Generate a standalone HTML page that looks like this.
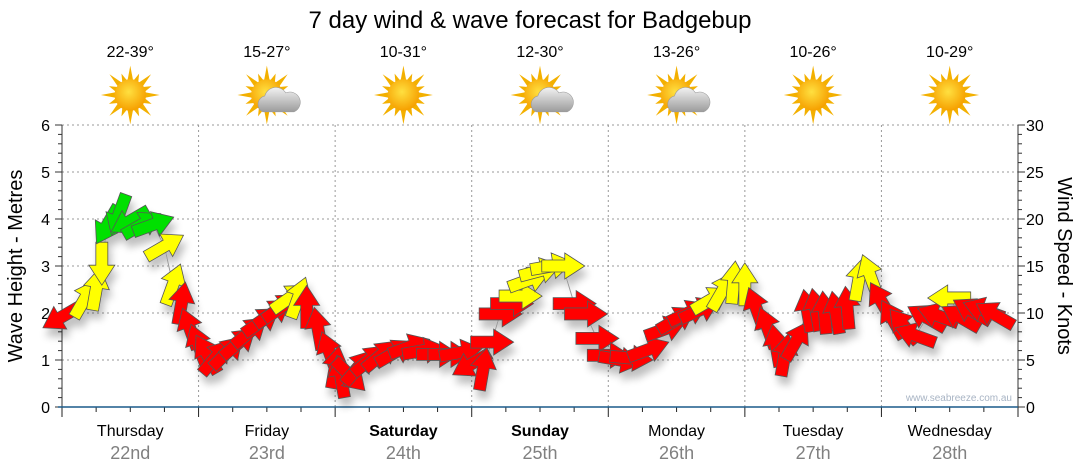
<!DOCTYPE html>
<html><head><meta charset="utf-8"><style>
body{margin:0;background:#fff;font-family:"Liberation Sans",sans-serif;}
#wrap{position:relative;width:1080px;height:475px;overflow:hidden;}
</style></head><body>
<div id="wrap">
<svg id="svg" width="1080" height="475">
<defs>
<radialGradient id="sunG" cx="45%" cy="40%" r="60%"><stop offset="0" stop-color="#ffe040"/><stop offset="1" stop-color="#f6a000"/></radialGradient>
<linearGradient id="cloudG" x1="0" y1="0" x2="0" y2="1"><stop offset="0" stop-color="#f2f2f2"/><stop offset="1" stop-color="#9c9c9c"/></linearGradient>
<filter id="shadow" x="-50%" y="-50%" width="200%" height="200%"><feGaussianBlur in="SourceAlpha" stdDeviation="4"/><feOffset dx="3" dy="8"/><feComponentTransfer><feFuncA type="linear" slope="0.25"/></feComponentTransfer><feMerge><feMergeNode/><feMergeNode in="SourceGraphic"/></feMerge></filter>
</defs>
<text x="530" y="28" font-size="24" text-anchor="middle" fill="#000">7 day wind &amp; wave forecast for Badgebup</text>
<text transform="translate(22,266) rotate(-90)" font-size="20" text-anchor="middle">Wave Height - Metres</text>
<text transform="translate(1058,266) rotate(90)" font-size="20" text-anchor="middle">Wind Speed - Knots</text>
<g id="grid"></g><g id="axes"></g><g id="icons"></g>
<text x="1012" y="401" font-size="10" fill="#a8b4c4" text-anchor="end">www.seabreeze.com.au</text>
<g id="marks" filter="url(#shadow)"></g>
</svg>
</div>
<script>
const days=["Thursday","Friday","Saturday","Sunday","Monday","Tuesday","Wednesday"];
const dates=["22nd","23rd","24th","25th","26th","27th","28th"];
const temps=["22-39°","15-27°","10-31°","12-30°","13-26°","10-26°","10-29°"];
const cloudy=[false,true,false,true,true,false,false];
const leftTicks=[0,1,2,3,4,5,6];
const rightTicks=[0,5,10,15,20,25,30];
// hours since Thursday 00:00
const hours=[0,4,6,7,8,10,12,14,16,18,19.5,21,22.5,24,25.5,27,29,31,33,35,37,38.5,40,41.5,43,45,47,48,49,50.5,52,54,56,58.5,61,63.5,66,68,70,72,74,75.5,77,79,80.5,82,84,86,88,90,92,94,96,98,100,103,106,108,110,112,114,116,118,120,122,124,125.5,127,129,131,132.5,134,136,138,140,142,144,146,148,150,152,154,156,158,160,162,164];
const wind=[9.6,11.5,12.5,15.3,19.4,20.5,19.8,19.4,19.4,17.1,13,11,8.3,6.6,5.6,5.3,5.8,6.8,8,9.1,10,10.6,11.6,11.6,10.6,8.3,5.8,4.2,3.2,3.4,4.2,5,5.5,5.8,6.4,6,5.6,5.6,5.8,4.6,4,6.9,9.9,11,11.8,13.5,14.5,15,15,11,9.9,7.3,5.5,5,5.2,6.1,8.3,9.3,10,10.3,11.4,12.3,13.2,13,10.5,8.4,6.5,5.5,7,10.2,10.3,10,10,10.5,13.5,14,11.2,9.3,8.6,7.6,9.5,9.7,11.6,9.5,10.2,10.3,9.8,10.6,12,13.5,14.3,13];
const dirs=[150,-60,-80,90,120,110,150,-30,-20,-30,-70,-80,-110,-110,-120,-50,-45,-40,-40,-35,-35,-35,-35,-70,-90,-100,-110,-80,-100,45,-50,-40,-40,-30,-20,-10,0,0,-10,150,-80,0,0,0,0,-20,-15,-10,0,0,0,0,0,10,5,-20,-20,-30,-25,-25,-30,-60,-85,-90,-110,-110,-100,-80,-60,-100,-100,-95,-100,-95,-80,-110,-120,-120,-130,-160,-150,-160,-180,-150,-150,-160,-150,-155,-120,-140,-140,-170];
const X0=62,X1=1018,Y0=407,Y1=125;
const xS=h=>X0+h*(X1-X0)/168;
const yM=m=>Y0-m*(Y0-Y1)/6;
const yK=k=>Y0-k*(Y0-Y1)/30;
const NS="http://www.w3.org/2000/svg";
function mk(t,a,p){const e=document.createElementNS(NS,t);for(const k in a)e.setAttribute(k,a[k]);(p||svg).appendChild(e);return e;}
const svg=document.getElementById('svg');
const grid=document.getElementById('grid'),axes=document.getElementById('axes'),icons=document.getElementById('icons'),marks=document.getElementById('marks');
leftTicks.forEach(v=>{if(v>0){const l=mk('line',{x1:X0,x2:X1,y1:yM(v),y2:yM(v),stroke:'#999','stroke-dasharray':'2,3'},grid);}
const t=mk('text',{x:50,y:yM(v)+6,'font-size':16,'text-anchor':'end'},axes);t.textContent=v;});
rightTicks.forEach(v=>{const t=mk('text',{x:1026,y:yK(v)+6,'font-size':16},axes);t.textContent=v;});
for(let i=0;i<=30;i++){const y=yK(i);const L=(i%5==0)?7:4;mk('line',{x1:X0-L,x2:X0,y1:y,y2:y,stroke:'#333'},axes);mk('line',{x1:X1,x2:X1+L,y1:y,y2:y,stroke:'#333'},axes);}
mk('line',{x1:X0,x2:X0,y1:Y1,y2:Y0,stroke:'#333'},axes);mk('line',{x1:X1,x2:X1,y1:Y1,y2:Y0,stroke:'#333'},axes);
for(let h=0;h<=168;h+=6){const x=xS(h);const big=h%24==0;mk('line',{x1:x,x2:x,y1:Y0,y2:Y0+(big?10:5),stroke:'#222'},axes);
if(big&&h>0&&h<168){const g=mk('line',{x1:x,x2:x,y1:Y1,y2:Y0,stroke:'#999','stroke-dasharray':'2,3'},grid);}}
const ax=mk('line',{x1:X0-4,x2:X1,y1:Y0,y2:Y0,stroke:'#1a5a8a','stroke-width':1.5},axes);
days.forEach((d,i)=>{const cx=xS(i*24+12);const we=(d=="Saturday"||d=="Sunday");
const t=mk('text',{x:cx,y:436,'font-size':16,'text-anchor':'middle','font-weight':we?'bold':'normal'},axes);t.textContent=d;
const t2=mk('text',{x:cx,y:459,'font-size':18,'text-anchor':'middle',fill:'#808080'},axes);t2.textContent=dates[i];
const t3=mk('text',{x:cx,y:57,'font-size':16,'text-anchor':'middle'},icons);t3.textContent=temps[i];
const g=mk('g',{transform:`translate(${cx},95) scale(1.05)`},icons);
for(let k=0;k<16;k++){const a=k*22.5,r=k%2?22:28;mk('polygon',{points:`-3,-12 3,-12 0,-${r}`,fill:'#f3b000',transform:`rotate(${a})`},g);}
mk('circle',{r:15,fill:'url(#sunG)'},g);
if(cloudy[i]){mk('path',{d:'M-4,16 a8,8 0 0 1 2,-15 a11,11 0 0 1 20,-3 a9,9 0 0 1 8,18 z',fill:'url(#cloudG)',stroke:'#999','stroke-width':0.5},g);}
});
// wave line
let pts=hours.map((h,i)=>xS(h)+','+yK(wind[i])).join(' ');
const wl=mk('polyline',{points:pts,fill:'none',stroke:'#999','stroke-width':1},marks);
hours.forEach((h,i)=>{const k=wind[i];const col=k>=18?'#00e000':(k>=11.3?'#ffff00':'#ff0000');
const a=mk('path',{d:'M-21,-6 L2,-6 L2,-13 L22,0 L2,13 L2,6 L-21,6 Z',fill:col,stroke:'#555','stroke-width':0.8,transform:`translate(${xS(h)},${yK(k)}) rotate(${dirs[i]})`},marks);

});
</script>
</body></html>
